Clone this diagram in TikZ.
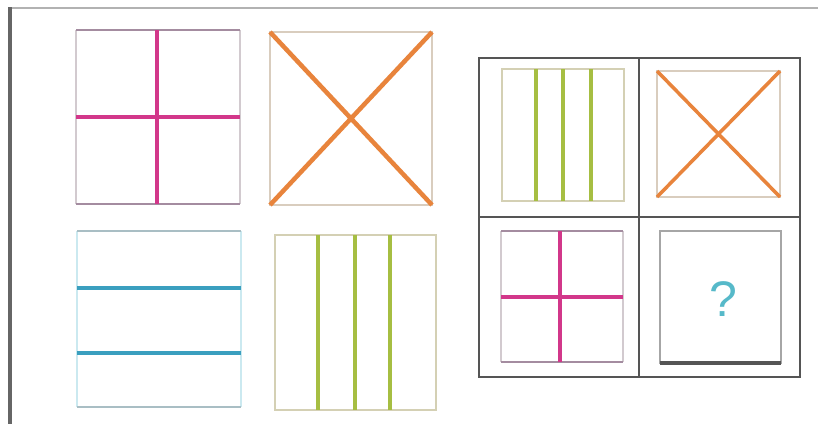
\documentclass[tikz,border=0pt]{standalone}
\usepackage{fontspec}
\setmainfont{Liberation Sans}
\definecolor{pinkc}{HTML}{D2378A}
\definecolor{orangec}{HTML}{E8843C}
\definecolor{bluec}{HTML}{3A9FBF}
\definecolor{greenc}{HTML}{A6BE42}
\definecolor{framea}{HTML}{A48CA0}
\definecolor{frameb}{HTML}{D2CACF}
\definecolor{framec}{HTML}{D9CDBE}
\definecolor{framed}{HTML}{A9BEC4}
\definecolor{framee}{HTML}{CBE9F0}
\definecolor{framef}{HTML}{D4D0B4}
\definecolor{gridc}{HTML}{555555}
\definecolor{qc}{HTML}{56B9C9}
\tikzset{
  thick line/.style={line width=4.5pt},
  thin line/.style={line width=3.5pt},
  frame line/.style={line width=2.5pt}
}
\begin{document}
\begin{tikzpicture}[x=1pt,y=-1pt]
\useasboundingbox[fill=white] (0,0) rectangle (818,424);
% outer border
\draw[line width=1.5pt, color=gray!60] (10,8) -- (818,8);
\draw[line width=3.5pt, color=gray!80!black] (10,7) -- (10,424);
% square 1: pink cross
\draw[frame line, frameb] (76,30) -- (76,204) (240,30) -- (240,204);
\draw[frame line, framea] (76,30) -- (240,30) (76,204) -- (240,204);
\draw[thick line, pinkc] (76,117) -- (240,117) (157,30) -- (157,204);
% square 2: orange X
\draw[frame line, framec] (270,32) rectangle (432,205);
\draw[thick line, orangec] (270,32) -- (432,205) (432,32) -- (270,205);
% square 3: blue lines
\draw[frame line, framee] (77,231) -- (77,407) (241,231) -- (241,407);
\draw[frame line, framed] (77,231) -- (241,231) (77,407) -- (241,407);
\draw[thick line, bluec] (77,288) -- (241,288) (77,353) -- (241,353);
% square 4: green verticals
\draw[frame line, framef] (275,235) rectangle (436,410);
\draw[thick line, greenc] (318,235) -- (318,410) (355,235) -- (355,410) (390,235) -- (390,410);
% grid
\draw[line width=2.5pt, gridc] (479,58) rectangle (800,377);
\draw[line width=2.5pt, gridc] (639,58) -- (639,377) (479,217) -- (800,217);
% cell 1: green
\draw[frame line, framef] (502,69) rectangle (624,201);
\draw[thin line, greenc] (536,69) -- (536,201) (563,69) -- (563,201) (591,69) -- (591,201);
% cell 2: orange X
\draw[frame line, framec] (657,71) rectangle (780,197);
\draw[thin line, orangec] (657,71) -- (780,197) (780,71) -- (657,197);
% cell 3: pink cross
\draw[frame line, frameb] (501,231) -- (501,362) (623,231) -- (623,362);
\draw[frame line, framea] (501,231) -- (623,231) (501,362) -- (623,362);
\draw[thin line, pinkc] (501,297) -- (623,297) (560,231) -- (560,362);
% cell 4: question
\draw[line width=2.5pt, gray!70] (660,231) rectangle (781,363);
\draw[line width=3.5pt, gridc] (660,363) -- (781,363);
\node[text=qc, font=\fontsize{50}{50}\selectfont, inner sep=0pt] (q) at (723,299) {?};
\end{tikzpicture}
\end{document}
